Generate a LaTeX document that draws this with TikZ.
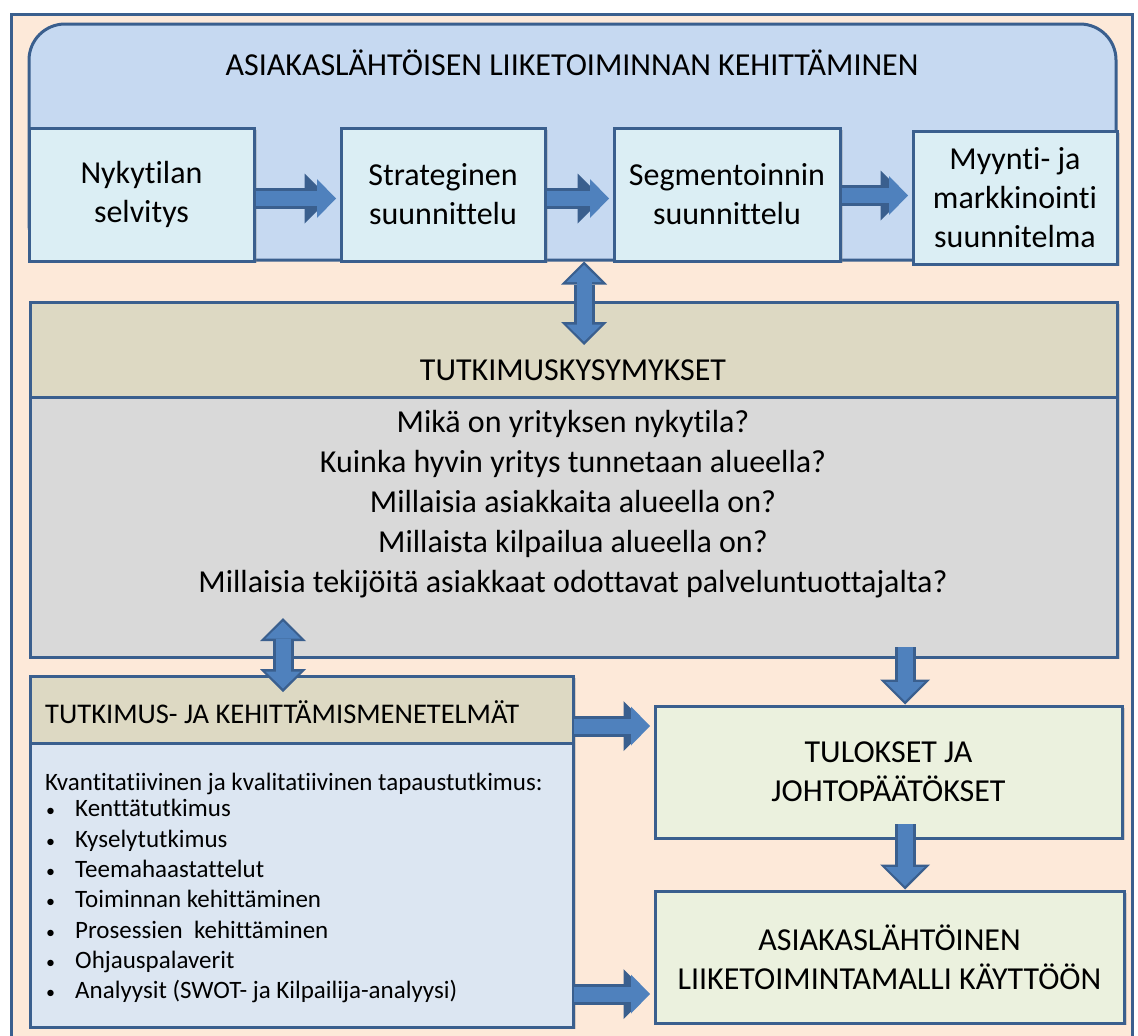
\documentclass[tikz,border=0pt]{standalone}
\usepackage{fontspec}
\setmainfont{Carlito}[Ligatures={NoCommon}]
\usepackage{xcolor}
\usetikzlibrary{positioning}
\usetikzlibrary{arrows.meta}
\usetikzlibrary{shadows}
\definecolor{peach}{HTML}{FDE9D9}
\definecolor{edgeblue}{HTML}{3A5F8E}
\definecolor{hubfill}{HTML}{C6D9F1}
\definecolor{stagefill}{HTML}{DBEEF4}
\definecolor{tanfill}{HTML}{DDD9C3}
\definecolor{greyfill}{HTML}{D9D9D9}
\definecolor{methodfill}{HTML}{DCE6F2}
\definecolor{resultfill}{HTML}{EBF1DE}
\definecolor{arrowblue}{HTML}{4F81BD}
\newcommand{\stagefont}{\fontsize{32}{39}\selectfont}
\newcommand{\questfont}{\fontsize{32}{40}\selectfont}
\newcommand{\methodheadfont}{\fontsize{28.5}{30}\selectfont}
\newcommand{\methodfont}{\fontsize{25}{30.3}\selectfont}
\newcommand{\bulletitem}[1]{\hspace*{1pt}\makebox[29pt][l]{\fontsize{18}{18}\selectfont\textbullet}#1}
\tikzstyle{box}=[draw=edgeblue, line width=3pt, drop shadow={shadow xshift=3pt, shadow yshift=-2pt, opacity=0.3}]
\tikzstyle{stage}=[box, fill=stagefill, minimum height=133pt, align=center, font=\stagefont]
\tikzstyle{headbox}=[box, fill=tanfill]
\tikzstyle{questbox}=[box, fill=greyfill]
\tikzstyle{methodbox}=[box, fill=methodfill]
\tikzstyle{resultbox}=[box, fill=resultfill, minimum height=132pt, align=center, font=\stagefont]
\tikzstyle{flow}=[draw=edgeblue, line width=21pt, -{Triangle[width=50pt,length=25pt,line width=0pt]},
  postaction={draw=arrowblue, line width=15pt, -{Triangle[width=39pt,length=19pt,line width=0pt]}, shorten >=3.5pt}]
\tikzstyle{twoway}=[draw=edgeblue, line width=21pt, {Triangle[width=46pt,length=23pt,line width=0pt]}-{Triangle[width=46pt,length=23pt,line width=0pt]},
  postaction={draw=arrowblue, line width=15pt, {Triangle[width=35pt,length=17pt,line width=0pt]}-{Triangle[width=35pt,length=17pt,line width=0pt]}, shorten >=3.5pt, shorten <=3.5pt}]

\begin{document}
\begin{tikzpicture}[x=1pt, y=-1pt, every node/.style={inner sep=0pt, text=black}]
  \useasboundingbox (0,0) rectangle (1138,1036);
  \clip (0,0) rectangle (1138,1036);
  \node[draw=edgeblue, line width=3pt, fill=peach, minimum width=1121pt, minimum height=1031pt] (page) at (571.5,529.5) {};

  % top row
  \node[draw=edgeblue, line width=3pt, fill=hubfill, rounded corners=36pt, minimum width=1087pt, minimum height=236pt] (hub) at (572.5,142) {};
  \node[font=\stagefont] (hubtitle) at (572,63) {ASIAKASLÄHTÖISEN LIIKETOIMINNAN KEHITTÄMINEN};
  \node[stage, minimum width=225pt] (nykytila) at (141.5,194.5) {Nykytilan\\selvitys};
  \node[stage, minimum width=204pt] (strategia) [right=84pt of nykytila] {Strateginen\\suunnittelu};
  \node[stage, minimum width=226pt] (segmentointi) [right=66pt of strategia] {Segmentoinnin\\suunnittelu};
  \node[stage, minimum width=204pt] (myynti) [right=70pt of segmentointi, yshift=-3pt] {Myynti- ja\\markkinointi\\suunnitelma};

  % questions
  \node[headbox, minimum width=1087pt, minimum height=95pt] (kysymysotsikko) at (573.5,349.5) {};
  \node[font=\stagefont] (kysymysteksti) at (573,370) {TUTKIMUSKYSYMYKSET};
  \node[questbox, minimum width=1087pt, minimum height=260pt] (kysymyslista) at (573.5,527) {};
  \node[font=\questfont, align=center] (kysymykset) at (573,504) {Mikä on yrityksen nykytila?\\Kuinka hyvin yritys tunnetaan alueella?\\Millaisia asiakkaita alueella on?\\Millaista kilpailua alueella on?\\Millaisia tekijöitä asiakkaat odottavat palveluntuottajalta?};

  % methods
  \node[headbox, minimum width=543pt, minimum height=67pt] (menetelmaotsikko) at (301.5,709.5) {};
  \node[font=\methodheadfont, anchor=west] (menetelmateksti) at (45,712) {TUTKIMUS- JA KEHITTÄMISMENETELMÄT};
  \node[methodbox, minimum width=543pt, minimum height=284pt] (menetelmalista) at (301.5,885) {};
  \node[font=\methodfont, align=left, anchor=north west] (menetelmat) at (45,773) {Kvantitatiivinen ja kvalitatiivinen tapaustutkimus:\\[-4pt]
    \bulletitem{Kenttätutkimus}\\
    \bulletitem{Kyselytutkimus}\\
    \bulletitem{Teemahaastattelut}\\
    \bulletitem{Toiminnan kehittäminen}\\
    \bulletitem{Prosessien~ kehittäminen}\\
    \bulletitem{Ohjauspalaverit}\\
    \bulletitem{Analyysit (SWOT- ja Kilpailija-analyysi)}};

  % results
  \node[resultbox, minimum width=467pt] (tulokset) at (888.5,772) {TULOKSET JA\\JOHTOPÄÄTÖKSET};
  \node[resultbox, minimum width=469pt] (malli) at (889.5,957) {ASIAKASLÄHTÖINEN\\LIIKETOIMINTAMALLI KÄYTTÖÖN};

  % connectors
  \coordinate (hubgap) at (584,345);
  \coordinate (askup) at (283,618);
  \coordinate (askdown) at (283,692);
  \coordinate (vastausulos) at (905,647);
  \coordinate (tulosulos) at (905,824);
  \coordinate (otsikkoulos) at (574,726);
  \coordinate (listaulos) at (574,994);

  \draw[flow, shorten >=10pt] ([yshift=-4pt]nykytila.east) -- ([yshift=-4pt]strategia.west);
  \draw[flow, shorten >=10pt] ([yshift=-4pt]strategia.east) -- ([yshift=-4pt]segmentointi.west);
  \draw[flow, shorten >=6pt] ([yshift=-1pt]segmentointi.east) -- ([yshift=-1pt]segmentointi.east -| myynti.west);
  \draw[twoway] (hub.south -| hubgap) -- (hubgap);
  \draw[twoway] (askup) -- (askdown);
  \draw[flow] (vastausulos) -- (vastausulos |- tulokset.north);
  \draw[flow] (tulosulos) -- (tulosulos |- malli.north);
  \draw[flow, shorten >=5pt] (otsikkoulos) -- (otsikkoulos -| tulokset.west);
  \draw[flow, shorten >=5pt] (listaulos) -- (listaulos -| malli.west);
\end{tikzpicture}
\end{document}
